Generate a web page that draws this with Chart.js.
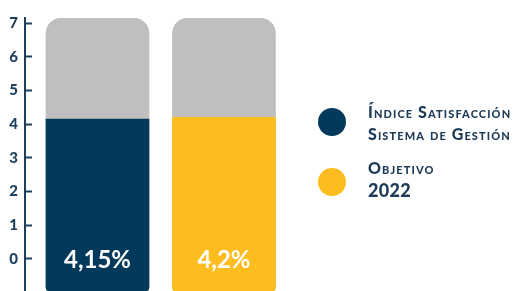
<!DOCTYPE html>
<html>
<head>
<meta charset="utf-8">
<script src="https://cdn.jsdelivr.net/npm/chart.js@4/dist/chart.umd.min.js"></script>
<style>
  body { margin: 0; background: #fff; }
  #wrap { position: relative; width: 513px; height: 291px; overflow: hidden; }
  #chart { position: absolute; left: 0; top: 0; }
  .dot { position: absolute; width: 28px; height: 28px; border-radius: 50%; }
  .lbl { position: absolute; left: 368px; font-family: Lato, sans-serif; font-weight: 900;
         color: #1d3a57; font-size: 16px; line-height: 22px; font-variant: small-caps;
         white-space: nowrap; letter-spacing: 1.1px; }
</style>
</head>
<body>
<div id="wrap">
  <canvas id="chart" width="513" height="291"></canvas>
  <div class="dot" style="left:318px; top:108px; background:#033a5b;"></div>
  <div class="lbl" style="top:101px;">Índice Satisfacción<br>Sistema de Gestión</div>
  <div class="dot" style="left:318px; top:168px; background:#fdbd1e;"></div>
  <div class="lbl" style="top:157px;">Objetivo<br><span style="font-variant:normal;font-size:18px;letter-spacing:0.3px;">2022</span></div>
</div>
<script>
// Chart data
const categories = ['Índice Satisfacción Sistema de Gestión', 'Objetivo 2022'];
const values = [4.15, 4.2];
const barColors = ['#033a5b', '#fdbd1e'];
const trackTop = 7.15;     // top of grey background bar
const axisBottom = -0.95;  // bars start a little below zero
const tickLabels = ['0', '1', '2', '3', '4', '5', '6', '7'];

const navy = '#1d3f5e';

// Writes the value inside each coloured bar
const valueLabels = {
  id: 'valueLabels',
  afterDatasetsDraw(chart) {
    const ctx = chart.ctx;
    const meta = chart.getDatasetMeta(0);
    const yPix = chart.scales.y.getPixelForValue(0);
    ctx.save();
    ctx.fillStyle = '#ffffff';
    ctx.font = 'bold 24px Lato, sans-serif';
    ctx.textAlign = 'center';
    ctx.textBaseline = 'middle';
    meta.data.forEach((bar, i) => {
      const txt = values[i].toString().replace('.', ',') + '%';
      ctx.fillText(txt, bar.x, yPix + 1);
    });
    ctx.restore();
  }
};

const ctx = document.getElementById('chart').getContext('2d');
new Chart(ctx, {
  type: 'bar',
  data: {
    datasets: [
      {
        label: 'valor',
        data: values.map((v, i) => ({ x: i, y: v })),
        backgroundColor: barColors,
        base: axisBottom,
        borderSkipped: false,
        borderRadius: { topLeft: 0, topRight: 0, bottomLeft: 4, bottomRight: 4 },
        order: 0
      },
      {
        label: 'fondo',
        data: categories.map((c, i) => ({ x: i, y: trackTop })),
        backgroundColor: '#bfbfbf',
        base: axisBottom,
        borderSkipped: false,
        borderRadius: { topLeft: 16, topRight: 16, bottomLeft: 4, bottomRight: 4 },
        order: 1
      }
    ]
  },
  options: {
    responsive: false,
    animation: false,
    datasets: { bar: { grouped: false, barThickness: 103 } },
    layout: { padding: { top: 18, right: 213, bottom: 0, left: 0 } },
    plugins: { legend: { display: false }, tooltip: { enabled: false } },
    scales: {
      x: {
        type: 'linear',
        display: false,
        offset: false,
        min: -0.573,
        max: 1.601
      },
      y: {
        min: axisBottom,
        max: trackTop,
        afterFit(scale) {
          scale.width = 25;
          scale.paddingTop = 0;
          scale.paddingBottom = 0;
        },
        border: { display: true, color: navy, width: 2 },
        grid: { drawOnChartArea: false, tickLength: -7, tickWidth: 2, tickColor: navy },
        ticks: {
          stepSize: 1,
          includeBounds: false,
          padding: 14,
          color: navy,
          font: { family: 'Lato', weight: '900', size: 15 },
          callback: (v) => tickLabels[v]
        }
      }
    }
  },
  plugins: [valueLabels]
});
</script>
</body>
</html>
